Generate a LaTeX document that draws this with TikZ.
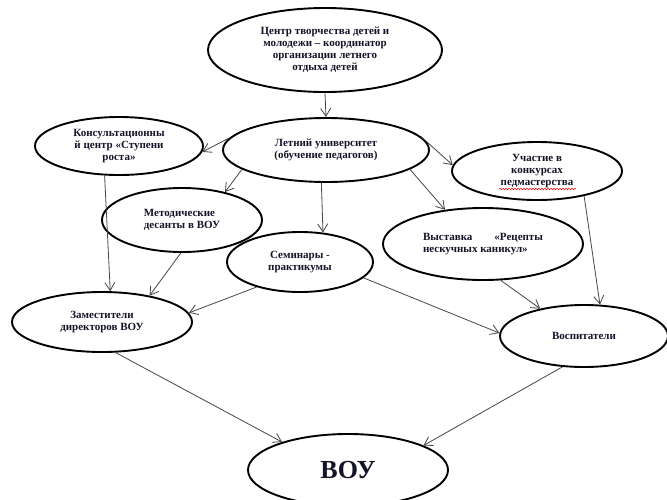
\documentclass[tikz,border=0pt]{standalone}
\usepackage{fontspec}
\setmainfont{Liberation Serif}
\usetikzlibrary{arrows.meta,shapes.geometric,decorations.pathmorphing}
\definecolor{txt}{RGB}{20,20,40}
\definecolor{linec}{RGB}{70,70,70}
\begin{document}
\begin{tikzpicture}[x=1pt,y=1pt,
  ell/.style={ellipse, draw=black, line width=1.9pt, inner sep=0pt, align=center,
    font=\bfseries\fontsize{11}{12}\selectfont, text=txt},
  conn/.style={draw=linec, line width=0.8pt, -{Straight Barb[length=8pt,width=10pt]}}]
\useasboundingbox (0,0) rectangle (667,-499);
\clip (0,0) rectangle (667,-499);
\fill[white] (0,0) rectangle (667,-499);

\node[ell, minimum width=234pt, minimum height=84pt] (T) at (325,-50)
  {Центр творчества детей и\\молодежи – координатор\\организации летнего\\отдыха детей};
\node[ell, minimum width=206pt, minimum height=64pt] (L) at (326,-150)
  {Летний университет\\(обучение педагогов)};
\node[ell, minimum width=168pt, minimum height=58pt] (K) at (119,-146)
  {Консультационны\\й центр «Ступени\\роста»};
\node[ell, minimum width=170pt, minimum height=58pt] (U) at (537,-171)
  {Участие в\\конкурсах\\педмастерства};
\node[ell, minimum width=160pt, minimum height=64pt, align=left] (M) at (182,-220)
  {Методические\\десанты в ВОУ};
\node[ell, minimum width=146pt, minimum height=60pt] (S) at (300,-262)
  {Семинары -\\практикумы};
\node[ell, minimum width=200pt, minimum height=72pt, align=left] (V) at (483,-244)
  {Выставка\hspace{2em}«Рецепты\\нескучных каникул»};
\node[ell, minimum width=180pt, minimum height=60pt] (Z) at (102,-322)
  {Заместители\\директоров ВОУ};
\node[ell, minimum width=168pt, minimum height=62pt] (B) at (584,-336)
  {Воспитатели};
\node[ell, minimum width=200pt, minimum height=72pt,
  font=\bfseries\fontsize{26}{28}\selectfont] (W) at (348,-470) {ВОУ};

% red spell-check underline
\draw[red, line width=0.5pt, decorate, decoration={snake, amplitude=0.8pt, segment length=3pt}]
  ([xshift=-38pt,yshift=-18pt]U.center) -- ([xshift=39pt,yshift=-18pt]U.center);

\draw[conn] (T.south) -- (L.north);
\draw[conn] (L.173) -- (K.356);
\draw[conn] (L.8) -- (U.176);
\draw[conn] (L.193) -- (M.33);
\draw[conn] (L.262) -- (S.52);
\draw[conn] (L.347) -- (V.138);
\draw[conn] (K.244) -- (Z.75);
\draw[conn] (M.268) -- (Z.29);
\draw[conn] (S.210) -- (Z.6);
\draw[conn] (S.346) -- (B.178);
\draw[conn] (V.296) -- (B.148);
\draw[conn] (U.332) -- (B.63);
\draw[conn] (Z.294) -- (W.157);
\draw[conn] (B.235) -- (W.18);
\end{tikzpicture}
\end{document}
